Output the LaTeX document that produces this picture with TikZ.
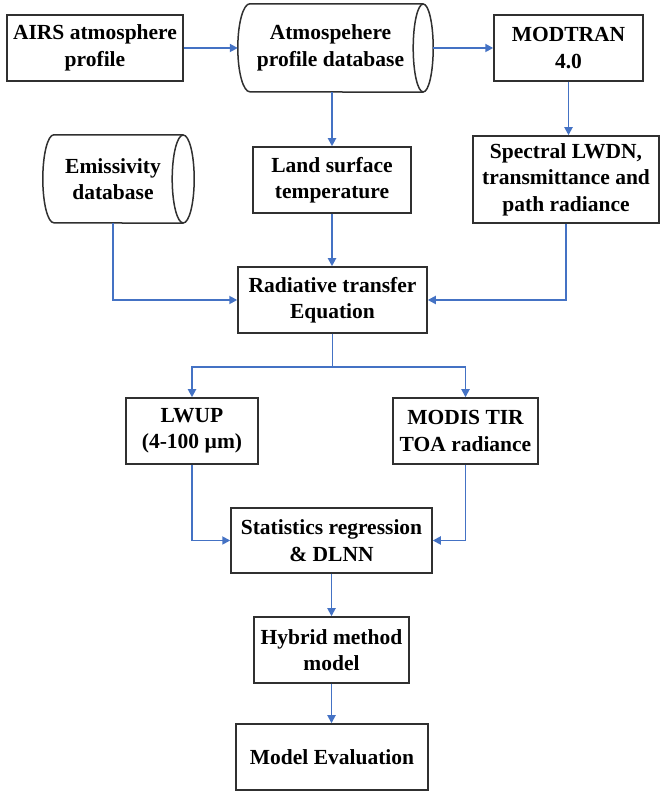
\documentclass[tikz,border=0pt]{standalone}
\usepackage{fontspec}
\setmainfont{Liberation Serif}[BoldFont={Liberation Serif Bold}]
\newfontfamily\diagfont{Liberation Serif Bold}
\usetikzlibrary{arrows.meta}
\definecolor{lineblue}{HTML}{4472C4}
\definecolor{boxgray}{HTML}{303030}
\begin{document}
\begin{tikzpicture}[x=1pt,y=1pt,
  txt/.style={align=center, inner sep=0pt, font=\diagfont\fontsize{21.5}{26.5}\selectfont},
  box/.style={txt, draw=boxgray, line width=1.5pt},
  cylbody/.style={txt, draw=none},
  outline/.style={draw=boxgray, line width=1.5pt},
  arr/.style={draw=lineblue, line width=1.8pt, -{Triangle[length=8pt,width=8pt]}}]
\useasboundingbox (0,0) rectangle (660,791);

% nodes
\node[box, minimum width=176pt, minimum height=66pt] (airs) at (95,743) {AIRS atmosphere\\profile};
\node[cylbody, minimum width=185pt, minimum height=88pt] (atm) at (330.5,743) {Atmospehere\\profile database};
\node[box, minimum width=149pt, minimum height=66pt] (modtran) at (568.5,743) {MODTRAN\\4.0};
\node[cylbody, minimum width=140pt, minimum height=88pt] (emis) at (113,612) {Emissivity\\database};
\node[box, minimum width=158pt, minimum height=66pt] (lst) at (332,611) {Land surface\\temperature};
\node[box, minimum width=186pt, minimum height=87pt] (spec) at (566,611.5) {Spectral LWDN,\\transmittance and\\path radiance};
\node[box, minimum width=189pt, minimum height=66pt] (rte) at (332.5,491) {Radiative transfer\\Equation};
\node[box, minimum width=132pt, minimum height=66pt] (lwup) at (192,360) {LWUP\\(4-100 µm)};
\node[box, minimum width=145pt, minimum height=66pt] (modis) at (465.5,360) {MODIS TIR\\TOA radiance};
\node[box, minimum width=201pt, minimum height=65pt] (sr) at (331.5,250.5) {Statistics regression\\\& DLNN};
\node[box, minimum width=155pt, minimum height=66pt] (hyb) at (331.5,141) {Hybrid method\\model};
\node[box, minimum width=192pt, minimum height=66pt] (me) at (332,34) {Model Evaluation};

% cylinder outlines
\draw[outline] (atm.north east) -- ([xshift=12pt]atm.north west)
  arc[start angle=90, end angle=270, x radius=12pt, y radius=44pt] -- (atm.south east);
\draw[outline] (atm.east) ellipse [x radius=10pt, y radius=44pt];
\draw[outline] (emis.north east) -- ([xshift=11pt]emis.north west)
  arc[start angle=90, end angle=270, x radius=11pt, y radius=44pt] -- (emis.south east);
\draw[outline] (emis.east) ellipse [x radius=11pt, y radius=44pt];

% connectors
\draw[arr] (airs.east) -- (atm.west);
\draw[arr] ([xshift=10pt]atm.east) -- (modtran.west);
\draw[arr] (modtran.south) -- (modtran.south |- spec.north);
\draw[arr] (atm.south -| lst.north) -- (lst.north);
\draw[arr] (emis.south) |- (rte.west);
\draw[arr] (lst.south) -- (lst.south |- rte.north);
\draw[arr] (spec.south) |- (rte.east);
\draw[arr] (rte.south) -- ++(0,-33) -| (lwup.north);
\draw[arr] (rte.south) -- ++(0,-33) -| (modis.north);
\draw[arr] (lwup.south) |- (sr.west);
\draw[arr] (modis.south) |- (sr.east);
\draw[arr] (sr.south) -- (sr.south |- hyb.north);
\draw[arr] (hyb.south) -- (hyb.south |- me.north);
\end{tikzpicture}
\end{document}
